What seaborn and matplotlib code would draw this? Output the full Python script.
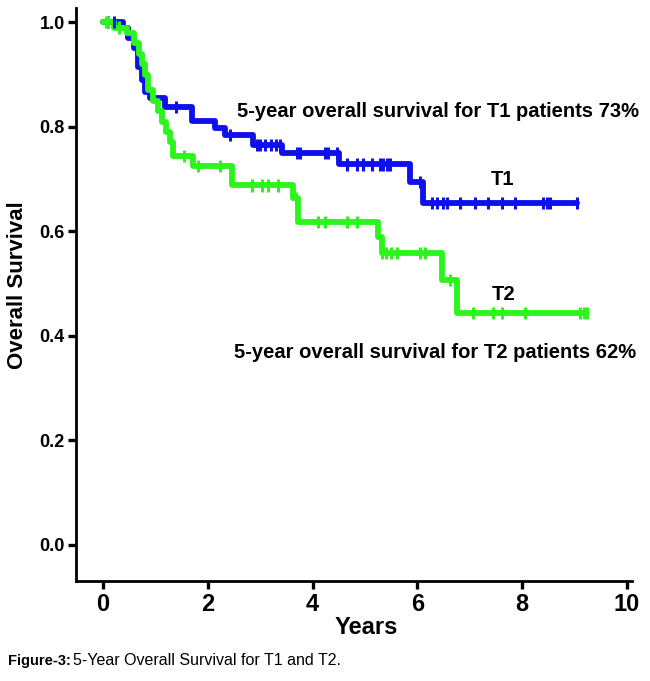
import numpy as np
import pandas as pd
import seaborn as sns
import matplotlib.pyplot as plt

# --- Kaplan-Meier step data ---
t1_times = [0, 0.38, 0.48, 0.6, 0.67, 0.75, 0.8, 0.9, 1.18, 1.7, 2.14, 2.33, 2.86, 3.41, 4.5, 5.86, 6.1]
t1_surv = [1.0, 0.99, 0.97, 0.95, 0.915, 0.89, 0.866, 0.855, 0.838, 0.812, 0.797, 0.784, 0.765, 0.75, 0.728, 0.694, 0.654]
t1_end = 9.05
t1_censor = [0.1, 0.2, 1.4, 2.42, 2.93, 3.0, 3.1, 3.2, 3.3, 3.37, 3.7, 3.76, 4.24, 4.3, 4.46,
             4.66, 4.85, 4.96, 5.13, 5.29, 5.35, 5.42, 5.48, 6.05, 6.28, 6.37, 6.49, 6.56, 6.81,
             7.1, 7.35, 7.61, 7.86, 8.4, 8.47, 8.53, 9.05]

t2_times = [0, 0.2, 0.45, 0.6, 0.68, 0.75, 0.8, 0.86, 0.95, 1.05, 1.12, 1.2, 1.28, 1.34,
            1.72, 2.46, 3.63, 3.72, 5.25, 5.32, 6.47, 6.75]
t2_surv = [1.0, 0.99, 0.98, 0.96, 0.94, 0.92, 0.9, 0.87, 0.85, 0.83, 0.81, 0.79, 0.77, 0.744,
           0.725, 0.688, 0.663, 0.618, 0.589, 0.558, 0.507, 0.444]
t2_end = 9.24
t2_censor = [0.05, 0.1, 0.3, 1.55, 1.81, 2.23, 2.84, 3.03, 3.15, 3.34, 3.68, 4.1, 4.24, 4.66,
             4.85, 5.32, 5.4, 5.5, 5.6, 6.05, 6.14, 6.62, 7.06, 7.44, 7.61, 8.05, 9.1, 9.17, 9.24]

groups = ['T1', 'T2']
colors = {'T1': '#1010ee', 'T2': '#2cf51c'}


def step_value(times, surv, t):
    idx = np.searchsorted(times, t, side='right') - 1
    return np.array(surv)[idx]


curves = []
marks = []
for g, tt, ss, te, cc in [('T1', t1_times, t1_surv, t1_end, t1_censor),
                          ('T2', t2_times, t2_surv, t2_end, t2_censor)]:
    curves.append(pd.DataFrame({'time': tt + [te], 'surv': ss + [ss[-1]], 'group': g}))
    marks.append(pd.DataFrame({'time': cc, 'surv': step_value(tt, ss, cc), 'group': g}))
curves = pd.concat(curves, ignore_index=True)
marks = pd.concat(marks, ignore_index=True)

sns.set_style('white')
plt.rcParams['font.family'] = ['Liberation Sans', 'DejaVu Sans']
plt.rcParams['text.color'] = 'black'

fig = plt.figure(figsize=(6.5, 6.81), dpi=100)
ax = fig.add_axes([0.117, 0.147, 0.855, 0.841])

sns.lineplot(data=curves, x='time', y='surv', hue='group', palette=colors,
             drawstyle='steps-post', estimator=None, sort=False, linewidth=4.2,
             legend=False, ax=ax)
sns.scatterplot(data=marks, x='time', y='surv', hue='group', palette=colors,
                marker='|', s=80, linewidth=2.2, legend=False, ax=ax, zorder=3)

ax.set_xlim(-0.515, 10.09)
ax.set_ylim(-0.069, 1.027)
ax.set_xticks([0, 2, 4, 6, 8, 10])
ax.set_yticks([0.0, 0.2, 0.4, 0.6, 0.8, 1.0])
ax.set_yticklabels(['0.0', '0.2', '0.4', '0.6', '0.8', '1.0'])
for s in ['top', 'right']:
    ax.spines[s].set_visible(False)
for s in ['left', 'bottom']:
    ax.spines[s].set_linewidth(2.0)
    ax.spines[s].set_color('black')
ax.tick_params(axis='both', direction='out', length=6, width=2.4, colors='black',
               bottom=True, left=True)
ax.tick_params(axis='x', labelsize=17, pad=3)
ax.tick_params(axis='y', labelsize=13, pad=2)
for lab in ax.get_xticklabels() + ax.get_yticklabels():
    lab.set_fontweight('bold')
ax.set_xlabel('Years', fontsize=17, fontweight='bold', color='black', va='center')
ax.set_ylabel('Overall Survival', fontsize=16, fontweight='bold', color='black',
              va='center', ha='center')
ax.xaxis.set_label_coords(0.523, -0.082)
ax.yaxis.set_label_coords(-0.106, 0.517)

ax.text(2.55, 0.829, '5-year overall survival for T1 patients 73%', fontsize=14.5,
        fontweight='bold', va='center', ha='left')
ax.text(7.62, 0.7, 'T1', fontsize=14.5, fontweight='bold', va='center', ha='center')
ax.text(7.65, 0.48, 'T2', fontsize=14.5, fontweight='bold', va='center', ha='center')
ax.text(2.5, 0.369, '5-year overall survival for T2 patients 62%', fontsize=14.5,
        fontweight='bold', va='center', ha='left')

fig.text(0.012, 0.03, 'Figure-3:', fontsize=10.5, fontweight='bold', va='center', ha='left')
fig.text(0.112, 0.03, '5-Year Overall Survival for T1 and T2.', fontsize=11.5,
         va='center', ha='left')

fig.savefig('out.png', dpi=100)
